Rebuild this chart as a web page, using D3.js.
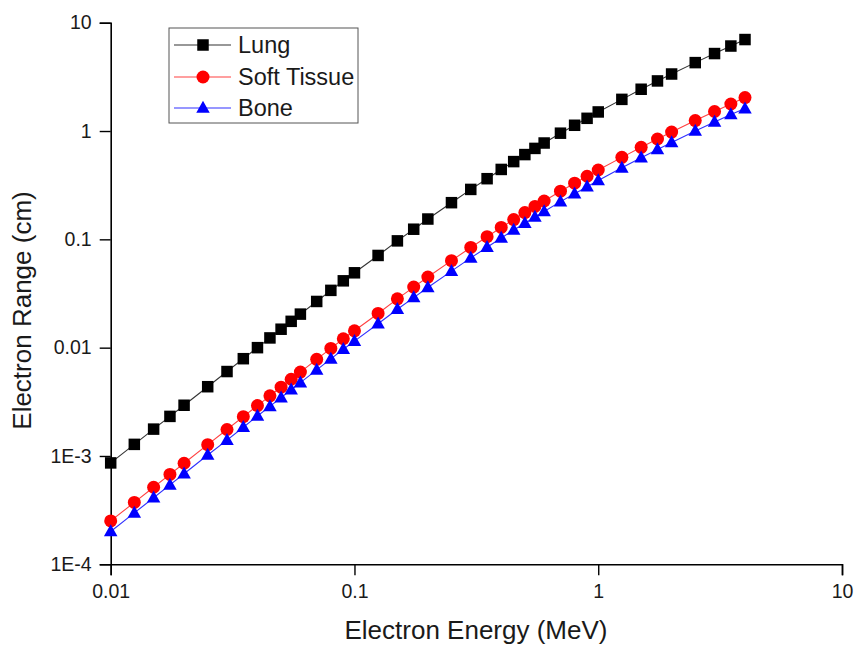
<!DOCTYPE html>
<html>
<head>
<meta charset="utf-8">
<script src="https://cdn.jsdelivr.net/npm/d3@7"></script>
<style>
html,body{margin:0;padding:0;background:#fff;}
svg{display:block;font-family:"Liberation Sans",Arial,sans-serif;}
</style>
</head>
<body>
<svg id="chart" width="856" height="649"></svg>
<script>
const energies = [0.01,0.0125,0.015,0.0175,0.02,0.025,0.03,0.035,0.04,0.045,0.05,0.055,0.06,0.07,0.08,0.09,0.1,0.125,0.15,0.175,0.2,0.25,0.3,0.35,0.4,0.45,0.5,0.55,0.6,0.7,0.8,0.9,1,1.25,1.5,1.75,2,2.5,3,3.5,4];
const lung = [8.63e-4,1.28e-3,1.77e-3,2.32e-3,2.94e-3,4.36e-3,6.02e-3,7.91e-3,1.00e-2,1.23e-2,1.48e-2,1.75e-2,2.04e-2,2.67e-2,3.38e-2,4.14e-2,4.91e-2,7.10e-2,9.68e-2,0.124,0.154,0.218,0.289,0.363,0.442,0.522,0.606,0.691,0.775,0.955,1.13,1.31,1.50,1.96,2.43,2.90,3.36,4.28,5.19,6.09,6.99];
const softTissue = [2.515e-4,3.728e-4,5.147e-4,6.762e-4,8.568e-4,1.272e-3,1.756e-3,2.306e-3,2.919e-3,3.592e-3,4.320e-3,5.109e-3,5.953e-3,7.797e-3,9.844e-3,1.208e-2,1.431e-2,2.069e-2,2.821e-2,3.623e-2,4.488e-2,6.357e-2,8.421e-2,0.1058,0.1288,0.1522,0.1766,0.2014,0.2260,0.2783,0.3299,0.3822,0.4367,0.5712,0.7075,0.8443,0.9785,1.249,1.514,1.776,2.037];
const bone = [2.01e-4,2.98e-4,4.12e-4,5.41e-4,6.85e-4,1.02e-3,1.40e-3,1.84e-3,2.34e-3,2.87e-3,3.46e-3,4.09e-3,4.76e-3,6.24e-3,7.88e-3,9.66e-3,1.15e-2,1.66e-2,2.26e-2,2.90e-2,3.59e-2,5.09e-2,6.74e-2,8.46e-2,0.103,0.122,0.141,0.161,0.181,0.223,0.264,0.306,0.349,0.457,0.566,0.675,0.783,0.999,1.21,1.42,1.61];
const seriesNames = ["Lung","Soft Tissue","Bone"];
const xTicks = [0.01,0.1,1,10];
const xTickLabels = ["0.01","0.1","1","10"];
const yTicks = [1e-4,1e-3,0.01,0.1,1,10];
const yTickLabels = ["1E-4","1E-3","0.01","0.1","1","10"];
const xTitle = "Electron Energy (MeV)";
const yTitle = "Electron Range (cm)";

const svg = d3.select("#chart");
const x = d3.scaleLog().domain([0.01,10]).range([110.7,842]);
const y = d3.scaleLog().domain([1e-4,10]).range([564.3,22.7]);

function minors(lo, hi){
  const out=[];
  for(let p=Math.log10(lo); p<Math.log10(hi)-1e-9; p++){
    for(let k=2;k<=9;k++) out.push(k*Math.pow(10,Math.round(p)));
  }
  return out;
}

const txtColor = "#1a1a1a";
const tickFont = 19.5;

// X axis
const gx = svg.append("g").attr("transform",`translate(0,${y(1e-4)})`);
gx.call(d3.axisBottom(x).tickValues(minors(0.01,10)).tickSize(6).tickFormat(""));
gx.call(d3.axisBottom(x).tickValues(xTicks).tickSize(11).tickPadding(9)
  .tickFormat((d,i)=>xTickLabels[i]));
gx.attr("font-size",tickFont).attr("font-family","Liberation Sans, Arial, sans-serif");
gx.selectAll("path.domain").attr("stroke","#000").attr("stroke-width",1.6);
gx.selectAll("line").attr("stroke","#000").attr("stroke-width",1.4);
gx.selectAll("text").attr("font-size",tickFont).attr("fill",txtColor);

// Y axis
const gy = svg.append("g").attr("transform",`translate(${x(0.01)},0)`);
gy.call(d3.axisLeft(y).tickValues(minors(1e-4,10)).tickSize(6).tickFormat(""));
gy.call(d3.axisLeft(y).tickValues(yTicks).tickSize(11).tickPadding(8)
  .tickFormat((d,i)=>yTickLabels[i]));
gy.attr("font-size",tickFont).attr("font-family","Liberation Sans, Arial, sans-serif");
gy.selectAll("path.domain").attr("stroke","#000").attr("stroke-width",1.6);
gy.selectAll("line").attr("stroke","#000").attr("stroke-width",1.4);
gy.selectAll("text").attr("font-size",tickFont).attr("fill",txtColor);

// Titles
svg.append("text").attr("x",476).attr("y",639).attr("text-anchor","middle")
  .attr("font-size",26).attr("fill",txtColor).text(xTitle);
svg.append("text").attr("transform","translate(31,310.5) rotate(-90)").attr("text-anchor","middle")
  .attr("font-size",26).attr("fill",txtColor).text(yTitle);

const series = [
  {name:seriesNames[0], values:lung, color:"#000000", line:"#333333", shape:"square"},
  {name:seriesNames[1], values:softTissue, color:"#ff0000", line:"#ff4040", shape:"circle"},
  {name:seriesNames[2], values:bone, color:"#0000ff", line:"#3030ff", shape:"triangle"}
];

function drawMarker(g, shape, color, cx, cy){
  if(shape==="square"){
    g.append("rect").attr("x",cx-5.75).attr("y",cy-5.75).attr("width",11.5).attr("height",11.5).attr("fill",color);
  } else if(shape==="circle"){
    g.append("circle").attr("cx",cx).attr("cy",cy).attr("r",6.5).attr("fill",color);
  } else {
    const s=13.5, h=12;
    g.append("path").attr("d",`M${cx},${cy-h*0.6}L${cx+s/2},${cy+h*0.4}L${cx-s/2},${cy+h*0.4}Z`).attr("fill",color);
  }
}

const line = d3.line().x(d=>x(d[0])).y(d=>y(d[1]));
series.forEach(s=>{
  const pts = energies.map((e,i)=>[e,s.values[i]]);
  const g = svg.append("g");
  g.append("path").attr("d",line(pts)).attr("fill","none").attr("stroke",s.line).attr("stroke-width",1.1);
  pts.forEach(p=>drawMarker(g,s.shape,s.color,x(p[0]),y(p[1])));
});

// Legend
const lg = svg.append("g");
lg.append("rect").attr("x",169).attr("y",28).attr("width",189).attr("height",95)
  .attr("fill","#fff").attr("stroke","#555").attr("stroke-width",1);
const rowsY=[45,77,108];
series.forEach((s,i)=>{
  lg.append("line").attr("x1",174).attr("x2",231).attr("y1",rowsY[i]).attr("y2",rowsY[i])
    .attr("stroke",s.line).attr("stroke-width",1.1);
  drawMarker(lg,s.shape,s.color,203,rowsY[i]);
  lg.append("text").attr("x",238).attr("y",rowsY[i]+8.3).attr("font-size",23.5).attr("fill",txtColor).text(s.name);
});
</script>
</body>
</html>
